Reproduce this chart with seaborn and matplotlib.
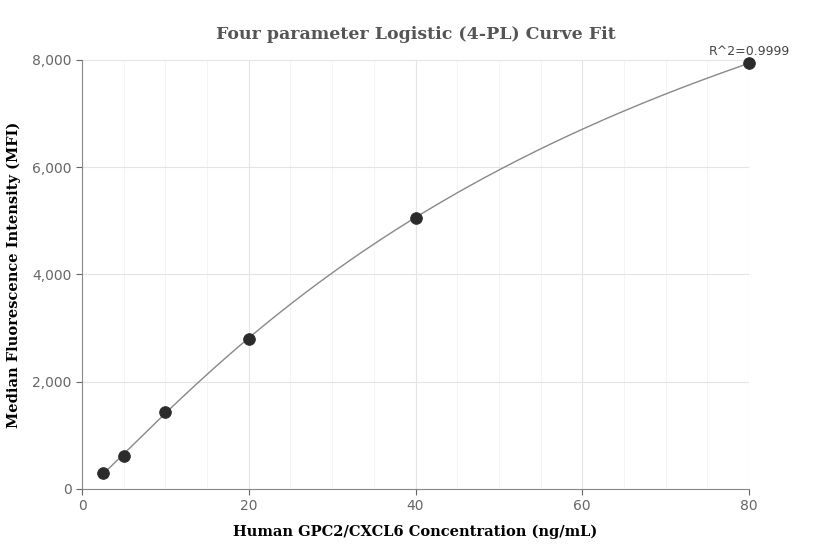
import numpy as np
import pandas as pd
import seaborn as sns
import matplotlib
matplotlib.use("Agg")
import matplotlib.pyplot as plt
from matplotlib.ticker import FuncFormatter, MultipleLocator

conc = [2.5, 5, 10, 20, 40, 80]
mfi = [290, 620, 1440, 2800, 5060, 7940]
title = "Four parameter Logistic (4-PL) Curve Fit"
xlabel = "Human GPC2/CXCL6 Concentration (ng/mL)"
ylabel = "Median Fluorescence Intensity (MFI)"
r2_label = "R^2=0.9999"

x = np.array(conc, float); y = np.array(mfi, float)
best = None
for b in np.linspace(0.8, 2.5, 86):
    for c in np.linspace(10, 400, 391):
        f = x**b / (c**b + x**b)
        A = np.vstack([1 - f, f]).T
        coef, *_ = np.linalg.lstsq(A, y, rcond=None)
        err = np.sum((A @ coef - y) ** 2)
        if best is None or err < best[0]:
            best = (err, b, c, coef)
_, b, c, (a, d) = best
xs = np.linspace(2.5, 80, 300)
ys = a + (d - a) * xs**b / (c**b + xs**b)

sns.set_theme(style="white")
fig = plt.figure(figsize=(8.32, 5.6), dpi=100)
ax = fig.add_axes([0.0986, 0.127, 0.8016, 0.766])
ax.plot(xs, ys, color="#888888", lw=1)
sns.scatterplot(x=conc, y=mfi, ax=ax, color="#2b2b2b", s=70, edgecolor="#2b2b2b", zorder=3, clip_on=False)
ax.set_xlim(0, 80); ax.set_ylim(0, 8000)
ax.xaxis.set_major_locator(MultipleLocator(20))
ax.xaxis.set_minor_locator(MultipleLocator(5))
ax.yaxis.set_major_locator(MultipleLocator(2000))
ax.grid(which="major", color="#e4e4e4", lw=0.8)
ax.grid(which="minor", axis="x", color="#f3f3f3", lw=0.6)
ax.set_axisbelow(True)
ax.yaxis.set_major_formatter(FuncFormatter(lambda v, p: f"{int(v):,}"))
for s in ["top", "right"]:
    ax.spines[s].set_visible(False)
for s in ["left", "bottom"]:
    ax.spines[s].set_color("#888888"); ax.spines[s].set_linewidth(0.8)
ax.tick_params(axis="both", colors="#666666", labelsize=10, length=4, width=0.8, bottom=True, left=True)
ax.tick_params(which="minor", length=0)
ax.set_xlabel(xlabel, fontfamily="DejaVu Serif", fontweight="bold", fontsize=10.5, color="black", labelpad=8)
ax.set_ylabel(ylabel, fontfamily="DejaVu Serif", fontweight="bold", fontsize=10.5, color="black", labelpad=8)
fig.text(0.5, 0.93, title, ha="center", fontfamily="DejaVu Serif", fontweight="bold", fontsize=12.5, color="#555555")
ax.annotate(r2_label, (80, 7940), xytext=(0, 4), textcoords="offset points", ha="center", va="bottom", fontsize=9, color="#444444", annotation_clip=False)
fig.savefig("out.png", dpi=100)
